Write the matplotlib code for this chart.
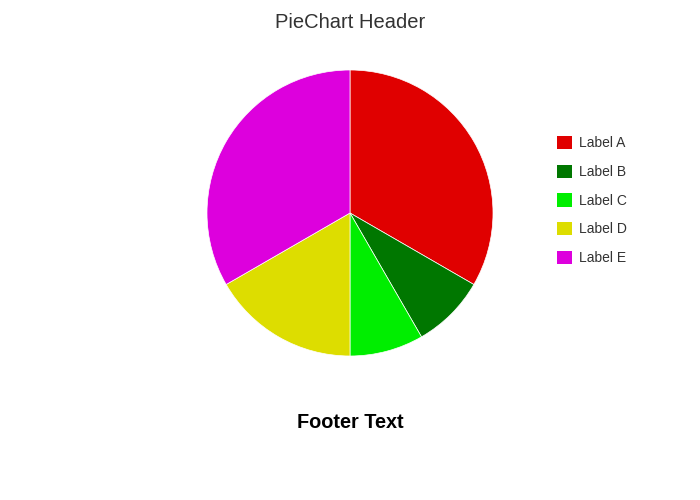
import matplotlib.pyplot as plt
from matplotlib.patches import Patch

plt.rcParams['font.family'] = ['Liberation Sans', 'DejaVu Sans']

labels = ['Label A', 'Label B', 'Label C', 'Label D', 'Label E']
values = [40, 10, 10, 20, 40]
colors = ['#e00000', '#007700', '#00ee00', '#dddd00', '#dd00dd']

fig = plt.figure(figsize=(7, 5), dpi=100)

# pie area: center (350, 213) px, radius ~143 px
r = 143
ax = fig.add_axes([(350 - r) / 700, (500 - 213 - r) / 500, 2 * r / 700, 2 * r / 500])
ax.pie(values, colors=colors, startangle=90, counterclock=False, radius=1,
       wedgeprops={'edgecolor': 'white', 'linewidth': 0.5})
ax.set_xlim(-1, 1)
ax.set_ylim(-1, 1)
ax.set_aspect('auto')
ax.axis('off')

fig.text(0.5, 1 - 23 / 500, 'PieChart Header', ha='center', va='center',
         fontsize=14.5, color='#333333')
fig.text(0.5, 1 - 423 / 500, 'Footer Text', ha='center', va='center',
         fontsize=14.3, fontweight='bold', color='black')

handles = [Patch(facecolor=c, edgecolor='none') for c in colors]
fig.legend(handles, labels, loc='upper left', bbox_to_anchor=(550 / 700, 1 - 129 / 500),
           frameon=False, fontsize=10, handlelength=1.1, handleheight=1.1,
           handletextpad=0.5, labelspacing=1.03, borderpad=0, labelcolor='#333333')

fig.savefig('out.png', dpi=100)
